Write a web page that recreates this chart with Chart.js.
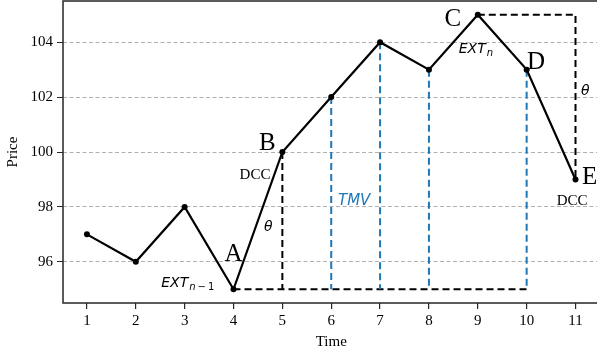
<!DOCTYPE html>
<html>
<head>
<meta charset="utf-8">
<script src="https://cdn.jsdelivr.net/npm/chart.js@4"></script>
<style>
  html, body { margin: 0; padding: 0; background: #fff; overflow: hidden; }
  #wrap { width: 597px; height: 354px; }
</style>
</head>
<body>
<div id="wrap"><canvas id="chart" width="597" height="354"></canvas></div>
<script>
// Data
const times = [1, 2, 3, 4, 5, 6, 7, 8, 9, 10, 11];
const prices = [97, 96, 98, 95, 100, 102, 104, 103, 105, 103, 99];
const xTicks = [1, 2, 3, 4, 5, 6, 7, 8, 9, 10, 11];
const yTicks = [96, 98, 100, 102, 104];

const baseLevel = 95;          // EXT_{n-1} level
const baseSpan = [4, 10];      // bottom dashed line
const dccTime = 5;             // vertical under B
const tmvTimes = [6, 7, 8, 10];
const topSpan = [9, 11];       // C -> corner -> E

const SERIF = '"Liberation Serif", "Times New Roman", serif';
const SANS = '"DejaVu Sans", sans-serif';
const BLUE = '#1f77b4';

const priceAt = t => prices[times.indexOf(t)];

// dashed helper datasets
const dashed = (pts, color) => ({
  data: pts, borderColor: color, borderWidth: 2, borderDash: [7, 4],
  pointRadius: 0, fill: false, tension: 0, order: 2
});

const datasets = [
  {
    data: times.map((t, i) => ({ x: t, y: prices[i] })),
    borderColor: '#000', borderWidth: 2.2, pointRadius: 3,
    pointBackgroundColor: '#000', pointBorderWidth: 0, tension: 0, order: 0
  },
  dashed([{ x: baseSpan[0], y: baseLevel }, { x: baseSpan[1], y: baseLevel }], '#000'),
  dashed([{ x: dccTime, y: priceAt(dccTime) }, { x: dccTime, y: baseLevel }], '#000'),
  dashed([{ x: topSpan[0], y: priceAt(topSpan[0]) }, { x: topSpan[1], y: priceAt(topSpan[0]) },
          { x: topSpan[1], y: priceAt(topSpan[1]) }], '#000')
];
tmvTimes.forEach(t => {
  const d = dashed([{ x: t, y: priceAt(t) }, { x: t, y: baseLevel }], BLUE);
  d.order = 1;
  datasets.push(d);
});

// annotations, in data coords
const labels = [
  { t: 'A', x: 4.0, y: 96.27, font: '25px ' + SERIF },
  { t: 'B', x: 4.69, y: 100.31, font: '25px ' + SERIF },
  { t: 'C', x: 8.49, y: 104.82, font: '25px ' + SERIF },
  { t: 'D', x: 10.19, y: 103.26, font: '25px ' + SERIF },
  { t: 'E', x: 11.29, y: 99.06, font: '25px ' + SERIF },
  { t: 'DCC', x: 4.44, y: 99.17, font: '15px ' + SERIF },
  { t: 'DCC', x: 10.93, y: 98.2, font: '15px ' + SERIF },
  { t: 'θ', x: 4.71, y: 97.25, font: 'italic 14px ' + SANS },
  { t: 'θ', x: 11.2, y: 102.22, font: 'italic 14px ' + SANS },
  { t: 'TMV', x: 6.47, y: 98.2, font: 'italic 15px ' + SANS, color: BLUE }
];

const annot = {
  id: 'annot',
  afterDatasetsDraw(chart) {
    const { ctx, chartArea: a, scales: { x, y } } = chart;
    ctx.save();
    // frame
    ctx.strokeStyle = '#262626';
    ctx.lineWidth = 1.5;
    ctx.strokeRect(a.left, a.top, a.right - a.left + 5, a.bottom - a.top);

    ctx.textBaseline = 'middle';
    ctx.textAlign = 'center';
    labels.forEach(l => {
      ctx.font = l.font;
      ctx.fillStyle = l.color || '#000';
      ctx.fillText(l.t, x.getPixelForValue(l.x), y.getPixelForValue(l.y));
    });

    // EXT with subscripts
    const ext = (px, py, subs) => {
      ctx.textAlign = 'left';
      ctx.fillStyle = '#000';
      ctx.font = 'italic 14px ' + SANS;
      ctx.fillText('EXT', px, py);
      let cx = px + ctx.measureText('EXT').width + 1;
      subs.forEach(s => {
        ctx.font = (s.upright ? '' : 'italic ') + '10px ' + SANS;
        ctx.fillText(s.t, cx + (s.pre || 0), py + 4);
        cx += ctx.measureText(s.t).width + (s.pre || 0);
      });
    };
    ext(x.getPixelForValue(2.52), y.getPixelForValue(95.23),
        [{ t: 'n' }, { t: '−', upright: true, pre: 2 }, { t: '1', upright: true, pre: 2 }]);
    ext(x.getPixelForValue(8.61), y.getPixelForValue(103.75), [{ t: 'n' }]);

    // axis titles
    ctx.font = '15px ' + SERIF;
    ctx.fillStyle = '#000';
    ctx.textAlign = 'center';
    ctx.fillText('Time', (x.getPixelForValue(6) + 0), 342);
    ctx.translate(13, (a.top + a.bottom) / 2);
    ctx.rotate(-Math.PI / 2);
    ctx.fillText('Price', 0, 0);
    ctx.restore();
  }
};

const noPad = s => { s.paddingTop = 0; s.paddingBottom = 0; s.paddingLeft = 0; s.paddingRight = 0; };

new Chart(document.getElementById('chart'), {
  type: 'line',
  data: { datasets },
  plugins: [annot],
  options: {
    responsive: false,
    animation: false,
    layout: { autoPadding: false, padding: { top: 1, right: 0, left: 0, bottom: 0 } },
    plugins: { legend: { display: false }, tooltip: { enabled: false } },
    scales: {
      x: {
        type: 'linear', min: 0.51, max: 11.44,
        afterBuildTicks: s => { s.ticks = xTicks.map(v => ({ value: v })); },
        afterFit: s => { s.height = 51; noPad(s); },
        grid: { drawOnChartArea: false, tickLength: 6, tickColor: '#262626', lineWidth: 1.2 },
        border: { display: false },
        ticks: { color: '#000', font: { family: SERIF, size: 15 }, padding: 3, maxRotation: 0 }
      },
      y: {
        min: 94.5, max: 105.5,
        afterBuildTicks: s => { s.ticks = yTicks.map(v => ({ value: v })); },
        afterFit: s => { s.width = 63; noPad(s); },
        grid: { color: '#b0b0b0', lineWidth: 1, tickLength: 6, tickColor: '#262626' },
        border: { display: false, dash: [4, 2.5] },
        ticks: { color: '#000', font: { family: SERIF, size: 15 }, padding: 4 }
      }
    }
  }
});
</script>
</body>
</html>
